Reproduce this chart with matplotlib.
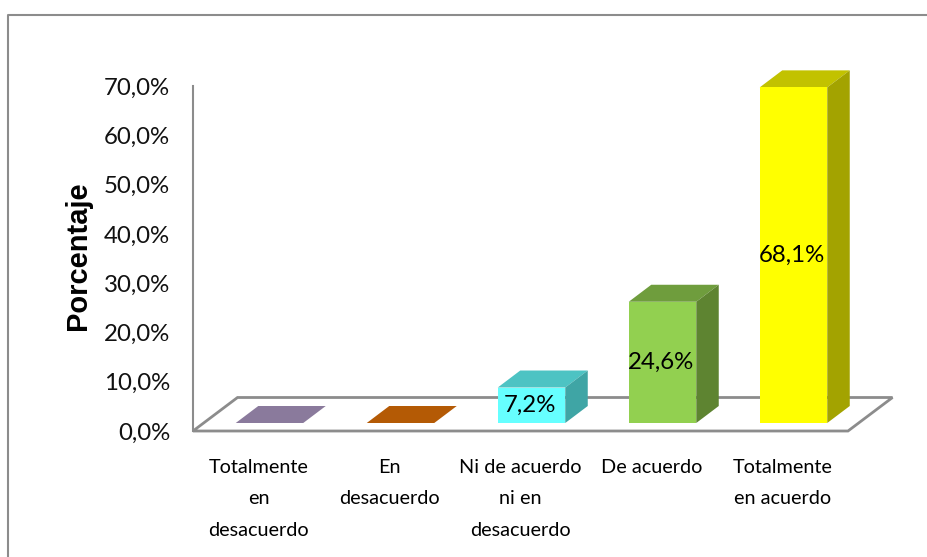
import matplotlib
matplotlib.use('Agg')
import matplotlib.pyplot as plt
from matplotlib.patches import Polygon
from matplotlib.lines import Line2D

categories = ['Totalmente\nen\ndesacuerdo', 'En\ndesacuerdo', 'Ni de acuerdo\nni en\ndesacuerdo',
              'De acuerdo', 'Totalmente\nen acuerdo']
values = [0.0, 0.0, 7.2, 24.6, 68.1]
value_labels = ['', '', '7,2%', '24,6%', '68,1%']
yticks = [0, 10, 20, 30, 40, 50, 60, 70]
ytick_labels = ['0,0%', '10,0%', '20,0%', '30,0%', '40,0%', '50,0%', '60,0%', '70,0%']

front = ['#8A7A9C', '#B45A05', '#66FFFF', '#92D050', '#FFFF00']
top = ['#8A7A9C', '#B45A05', '#4DC3C3', '#6F9D3D', '#C2C200']
side = ['#6A5E78', '#8A4504', '#3FA5A5', '#5E8431', '#A3A300']

W, H = 928, 557
plt.rcParams['font.family'] = ['Lato', 'DejaVu Sans']

fig = plt.figure(figsize=(W / 100, H / 100), dpi=100)
# plot box in pixels: x 193-848, y 431 (0%) to 86 (70%)
ax = fig.add_axes([193 / W, 1 - 431 / H, 655 / W, 345 / H])
ax.set_xlim(-0.5, 4.5)
ax.set_ylim(0, 70)

# depth of the fake 3d, in data units
px_x = 5 / 655
px_y = 70 / 345
dx = 22.5 * px_x
dy = 17 * px_y
floor_dx = 44.5 * px_x
floor_dy = 33.5 * px_y
base = 8 * px_y
bw = 67.5 * px_x
shift = 11 * px_x

grey = '#8C8C8C'
ax.add_patch(Polygon([(-0.5, 0), (4.5, 0), (4.5 + floor_dx, floor_dy), (-0.5 + floor_dx, floor_dy)],
                     closed=True, fc='white', ec=grey, lw=2, clip_on=False, zorder=1))

for i, v in enumerate(values):
    x0 = i + shift - bw / 2
    x1 = x0 + bw
    y0 = base
    y1 = base + v
    ax.add_patch(Polygon([(x0, y1), (x1, y1), (x1 + dx, y1 + dy), (x0 + dx, y1 + dy)],
                         closed=True, fc=top[i], ec='none', clip_on=False, zorder=3))
    if v > 0:
        ax.add_patch(Polygon([(x1, y0), (x1 + dx, y0 + dy), (x1 + dx, y1 + dy), (x1, y1)],
                             closed=True, fc=side[i], ec='none', clip_on=False, zorder=3))
        ax.bar(i + shift, v, bw, bottom=base, color=front[i], zorder=4, clip_on=False)
        ax.text(i + shift - 1.5 * px_x, base + v / 2, value_labels[i], ha='center', va='center',
                fontsize=17.3, color='black', zorder=5)

for s in ['top', 'right', 'bottom']:
    ax.spines[s].set_visible(False)
ax.spines['left'].set_color(grey)
ax.spines['left'].set_linewidth(1.5)

ax.set_yticks(yticks)
ax.set_yticklabels(ytick_labels, fontsize=17.3, color='#111111')
ax.tick_params(axis='y', length=0, pad=16.5)
ax.set_xticks(range(5))
ax.set_xticklabels(categories, fontsize=14.3, color='black', linespacing=2.05)
ax.tick_params(axis='x', length=0, pad=20)
ax.patch.set_visible(False)

fig.text(78 / W, 1 - 256 / H, 'Porcentaje', rotation=90, ha='center', va='center',
         family='Liberation Sans', fontweight='bold', fontsize=21)

# outer chart frame, cut by the picture edge
fig.add_artist(Line2D([8.5 / W, 8.5 / W, 1], [0, 1 - 14.5 / H, 1 - 14.5 / H], color='#8C8C8C', lw=1.5))

fig.savefig('out.png', dpi=100)
